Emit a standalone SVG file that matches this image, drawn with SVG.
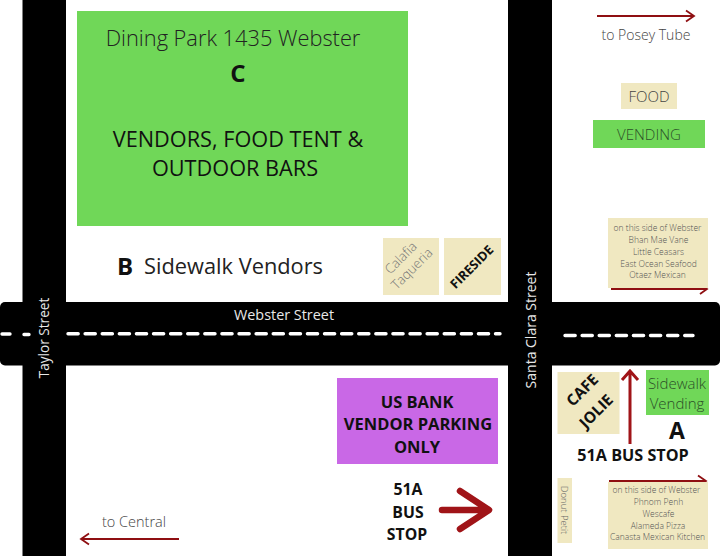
<svg xmlns="http://www.w3.org/2000/svg" width="720" height="556" viewBox="0 0 720 556">
<style>
text{font-family:"Open Sans","Noto Sans","Liberation Sans",sans-serif;text-anchor:middle}
.g{fill:#70d758}.s{fill:#f0e8c1}.road{fill:#000}
.lab{fill:#e8e8e8;font-size:14px}
.sm{font-size:8.500px;fill:#555;font-weight:300}
.b{font-weight:700;fill:#111}
.l{font-weight:300}
.d{fill:none;stroke:#fff;stroke-width:3.400;stroke-dasharray:10.200 6.900;stroke-linecap:round}
.ar{fill:none;stroke:#8f0f12;stroke-width:1.800}
</style>
<rect width="720" height="556" fill="#fff"/>
<g id="roads">
<rect class="road" x="0" y="302" width="720" height="63.500" rx="5"/>
<rect class="road" x="22.500" y="0" width="43.500" height="556"/>
<rect class="road" x="508" y="0" width="44" height="556"/>
</g>
<g id="connectors">
<path class="d" d="M68 333.700H500"/>
<path class="d" d="M2 334H10M24 334.500H29"/>
<path class="d" d="M565 335.500H693"/>
<path class="ar" d="M597 16H694M686 10.500L694 16L686 21.500"/>
<path class="ar" d="M179 539H81M89 533.500L81 539L89 544.500"/>
<path class="ar" d="M611 289H707M700 284L707 289L700 294"/>
<path class="ar" d="M609 481H706M698 475.500L706 481L698 486.500"/>
<path fill="none" stroke="#a01418" stroke-width="3" d="M630 444V372M622 380L630 371L638 380"/>
<path fill="none" stroke="#a01418" stroke-width="6.500" stroke-linejoin="round" stroke-linecap="round" d="M442 510H488M460 491L489 510L460 529"/>
</g>
<g id="taylor"><text class="lab" transform="translate(49 338) rotate(-90)" style="font-size:13.600px">Taylor Street</text></g>
<g id="webster"><text class="lab" x="284" y="320" style="font-size:14.400px">Webster Street</text></g>
<g id="santa-clara"><text class="lab" transform="translate(536 330) rotate(-90)">Santa Clara Street</text></g>
<g id="dining-park">
<rect class="g" x="77" y="11" width="331" height="215"/>
<text class="l" x="233" y="46" font-size="21.800" fill="#222">Dining Park 1435 Webster</text>
<text class="b" x="238" y="82" font-size="24">C</text>
<text x="238" y="147" font-size="21.700" fill="#111">VENDORS, FOOD TENT &amp;</text>
<text x="235" y="176" font-size="21.700" fill="#111">OUTDOOR BARS</text>
</g>
<g id="sidewalk-b">
<text class="b" x="125" y="275" font-size="24">B</text>
<text x="233.500" y="274" font-size="21.800" fill="#222">Sidewalk Vendors</text>
</g>
<g id="calafia">
<rect class="s" x="383" y="238" width="56" height="57"/>
<text class="l" transform="translate(404 261) rotate(-45)" font-size="13.200" fill="#777">Calafia</text>
<text class="l" transform="translate(415 272) rotate(-45)" font-size="13.200" fill="#777">Taqueria</text>
</g>
<g id="fireside">
<rect class="s" x="444" y="238" width="57" height="57"/>
<text class="b" transform="translate(475 270) rotate(-45)" font-size="12.800">FIRESIDE</text>
</g>
<g id="posey"><text class="l" x="646" y="40" font-size="14" fill="#444">to Posey Tube</text></g>
<g id="legend-food">
<rect class="s" x="621" y="83" width="56" height="26"/>
<text class="l" x="649" y="102" font-size="15" fill="#444">FOOD</text>
</g>
<g id="legend-vending">
<rect class="g" x="593" y="120" width="112" height="28"/>
<text class="l" x="649" y="140" font-size="15" fill="#2c4f28">VENDING</text>
</g>
<g id="east-list">
<rect class="s" x="608" y="218" width="100" height="70"/>
<text class="sm" x="657.500" y="231">on this side of Webster</text>
<text class="sm" x="658.500" y="243">Bhan Mae Vane</text>
<text class="sm" x="658.500" y="254.500">Little Ceasars</text>
<text class="sm" x="658.500" y="266.500">East Ocean Seafood</text>
<text class="sm" x="657.500" y="278">Otaez Mexican</text>
</g>
<g id="us-bank">
<rect x="337" y="378" width="161" height="86" fill="#c968e6"/>
<text class="b" x="417" y="408" font-size="16.500">US BANK</text>
<text class="b" x="418" y="430" font-size="16.500">VENDOR PARKING</text>
<text class="b" x="417" y="453" font-size="16.500">ONLY</text>
</g>
<g id="bus-51a">
<text class="b" x="408" y="495" font-size="15.800">51A</text>
<text class="b" x="408" y="517.500" font-size="15.800">BUS</text>
<text class="b" x="407" y="540" font-size="15.800">STOP</text>
</g>
<g id="to-central"><text class="l" x="134" y="527" font-size="14.500" fill="#444">to Central</text></g>
<g id="cafe-jolie">
<rect class="s" x="557.500" y="372" width="62" height="62"/>
<text class="b" transform="translate(586 394) rotate(-45)" font-size="15.500">CAFE</text>
<text class="b" transform="translate(600 415) rotate(-45)" font-size="15.500">JOLIE</text>
</g>
<g id="sidewalk-vending">
<rect class="g" x="646" y="370" width="63" height="45"/>
<text class="l" x="677" y="389" font-size="15" fill="#2c4f28">Sidewalk</text>
<text class="l" x="677" y="409" font-size="15" fill="#2c4f28">Vending</text>
</g>
<g id="a-label"><text class="b" x="677" y="439" font-size="23">A</text></g>
<g id="bus-stop-a"><text class="b" x="633" y="460.500" font-size="16.200">51A BUS STOP</text></g>
<g id="donut-petit">
<rect class="s" x="557.500" y="478" width="14.500" height="65"/>
<text class="l" transform="translate(561 510) rotate(90)" font-size="9.500" fill="#666">Donut Petit</text>
</g>
<g id="west-list">
<rect class="s" x="608" y="482" width="100" height="67"/>
<text class="sm" x="656.500" y="492.500">on this side of Webster</text>
<text class="sm" x="658.500" y="504.500">Phnom Penh</text>
<text class="sm" x="658.500" y="516.500">Wescafe</text>
<text class="sm" x="658" y="528.500">Alameda Pizza</text>
<text class="sm" x="657.500" y="540">Canasta Mexican Kitchen</text>
</g>
</svg>
